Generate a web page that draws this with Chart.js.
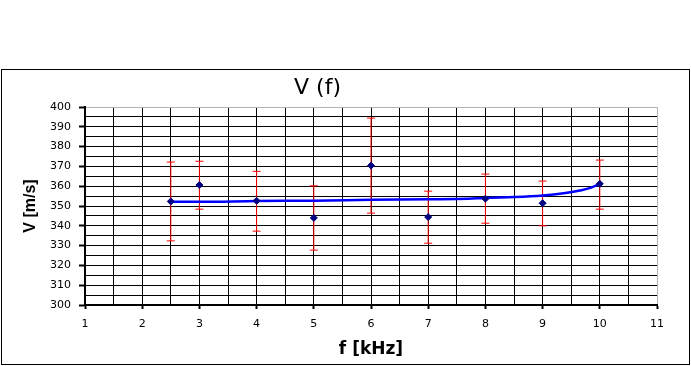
<!DOCTYPE html>
<html>
<head>
<meta charset="utf-8">
<script src="https://cdn.jsdelivr.net/npm/chart.js@4"></script>
<style>
  html, body { margin: 0; padding: 0; background: #fff; }
  #wrap { position: relative; width: 691px; height: 366px; }
</style>
</head>
<body>
<div id="wrap"><canvas id="c" width="691" height="366"></canvas></div>
<script>
// ---- data ----
const freqs   = [2.5, 3, 4, 5, 6, 7, 8, 9, 10];
const speeds  = [352.3, 360.6, 352.6, 344.0, 370.4, 344.4, 353.7, 351.4, 361.2];
const errHigh = [372.2, 372.6, 367.5, 360.2, 394.4, 357.5, 366.1, 362.6, 373.2];
const errLow  = [332.4, 348.4, 337.3, 327.7, 346.4, 331.2, 341.3, 340.0, 348.4];
const trendF  = [2.5, 3, 4, 5, 6, 7, 7.7, 8, 8.5, 9, 9.4, 9.65, 9.82, 10];
const trendV  = [352.1, 352.1, 352.5, 352.7, 353.1, 353.4, 353.6, 354.1, 354.5, 355.3, 356.6, 357.8, 359.0, 361.2];
const titleText = 'V (f)';
const xTitle = 'f [kHz]';
const yTitle = 'V [m/s]';

// ---- build datasets ----
const pointData = freqs.map((f, i) => ({ x: f, y: speeds[i] }));
const trendData = trendF.map((f, i) => ({ x: f, y: trendV[i] }));
const barData = [];
const capData = [];
freqs.forEach((f, i) => {
  barData.push({ x: f, y: errLow[i] }, { x: f, y: errHigh[i] }, { x: f, y: null });
  capData.push({ x: f, y: errHigh[i] }, { x: f, y: errLow[i] });
});

const frame = {
  id: 'frame',
  afterDraw(chart) {
    const ctx = chart.ctx;
    ctx.save();
    ctx.strokeStyle = '#000';
    ctx.lineWidth = 1;
    ctx.strokeRect(1.5, 69.5, 688, 295);
    ctx.restore();
  }
};

new Chart(document.getElementById('c'), {
  type: 'scatter',
  data: {
    datasets: [
      { data: pointData, pointStyle: 'rectRot', pointRadius: 3.5,
        backgroundColor: '#000080', borderColor: '#000080', borderWidth: 1, order: 1 },
      { data: trendData, showLine: true, pointRadius: 0, borderColor: '#0000ff',
        borderWidth: 2.5, cubicInterpolationMode: 'monotone', order: 2 },
      { data: barData, showLine: true, spanGaps: false, pointRadius: 0,
        borderColor: '#ff0000', borderWidth: 1, order: 3 },
      { data: capData, showLine: false, pointStyle: 'line', pointRadius: 4,
        borderColor: '#ff0000', borderWidth: 1, order: 4 }
    ]
  },
  options: {
    responsive: false,
    animation: false,
    layout: { padding: { left: -22, right: 34, top: 0, bottom: 0 } },
    plugins: {
      legend: { display: false },
      tooltip: { enabled: false },
      title: {
        display: true, text: titleText, color: '#000',
        font: { family: 'DejaVu Sans', size: 22, weight: 'normal', lineHeight: 1.2 },
        padding: { top: 75, bottom: 5.6 }
      }
    },
    scales: {
      x: {
        type: 'linear', min: 1, max: 11,
        afterFit: (s) => { s.height = 61; },
        border: { color: '#000', width: 2 },
        grid: {
          color: (c) => (c.tick && c.tick.value === 11) ? '#b4b4b4' : '#000',
          lineWidth: 1,
          tickLength: 4,
          tickWidth: 2,
          tickColor: (c) => (c.tick && Number.isInteger(c.tick.value)) ? '#000' : 'rgba(0,0,0,0)'
        },
        ticks: {
          stepSize: 0.5, autoSkip: false, maxRotation: 0, padding: 9, color: '#000',
          font: { family: 'DejaVu Sans', size: 11 },
          callback: (v) => Number.isInteger(v) ? String(v) : ''
        },
        title: {
          display: true, text: xTitle, color: '#000',
          font: { family: 'DejaVu Sans', size: 17, weight: 'bold', lineHeight: 1.2 },
          padding: { top: 0, bottom: 6 }
        }
      },
      y: {
        type: 'linear', min: 300, max: 400,
        afterFit: (s) => { s.width = 107; },
        border: { color: '#000', width: 2 },
        grid: {
          color: (c) => (c.tick && c.tick.value === 400) ? '#b4b4b4' : '#000',
          lineWidth: 1,
          tickLength: 6,
          tickWidth: 2,
          tickColor: (c) => (c.tick && c.tick.value % 10 === 0) ? '#000' : 'rgba(0,0,0,0)'
        },
        ticks: {
          stepSize: 5, autoSkip: false, padding: 8, color: '#000',
          font: { family: 'DejaVu Sans', size: 11 },
          callback: (v) => (v % 10 === 0) ? String(v) : ''
        },
        title: {
          display: true, text: yTitle, color: '#000',
          font: { family: 'Liberation Sans', size: 16, weight: 'bold', lineHeight: 1.2 },
          padding: { top: 43, bottom: 0 }
        }
      }
    }
  },
  plugins: [frame]
});
</script>
</body>
</html>
